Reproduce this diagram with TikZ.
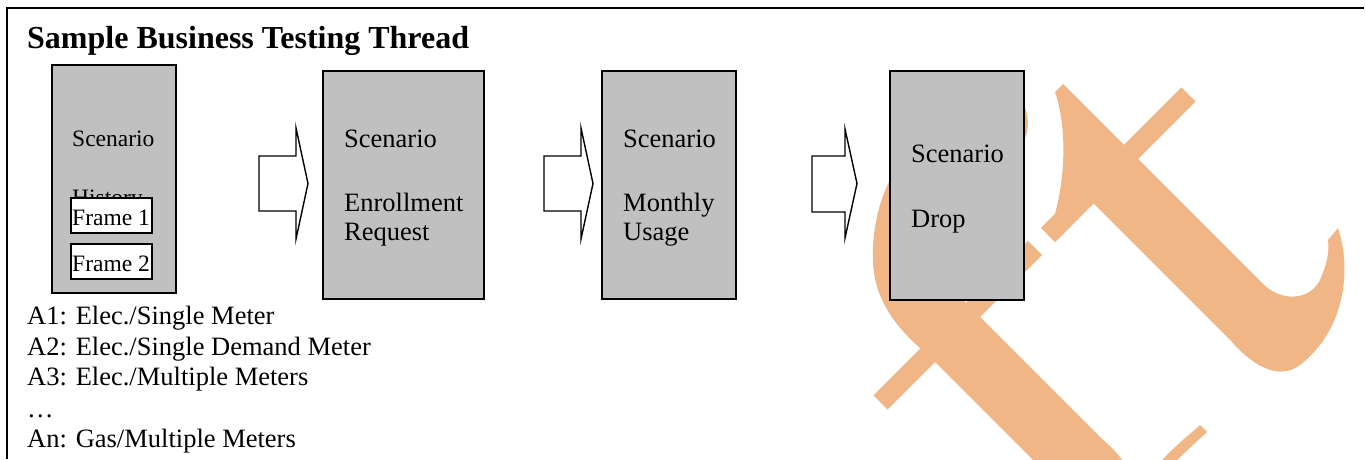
\documentclass[tikz,border=0pt]{standalone}
\usepackage{fontspec}
\setmainfont{Liberation Serif}
\definecolor{wm}{RGB}{240,182,134}
\definecolor{boxgray}{RGB}{192,192,192}
\begin{document}
\begin{tikzpicture}[x=1pt,y=-1pt,
  scenbox/.style={draw=black, fill=boxgray, line width=1.5pt, inner sep=0pt},
  framebox/.style={draw=black, fill=white, line width=1.5pt, inner sep=0pt},
  txt/.style={anchor=base west, inner sep=0pt, font=\fontsize{26.5}{30}\selectfont},
  smalltxt/.style={anchor=base west, inner sep=0pt, font=\fontsize{23.5}{27}\selectfont},
  titletxt/.style={anchor=base west, inner sep=0pt, font=\bfseries\fontsize{32}{36}\selectfont},
  blockarrow/.style={draw=black, line width=1.4pt, fill=white, line join=miter},
  wmark/.style={fill=wm, draw=none},
  wbar/.style={draw=wm, line width=20pt}]
\fill[white] (0,0) rectangle (1365,459);
\useasboundingbox (0,0) rectangle (1365,459);
\begin{scope}
\clip (0,0) rectangle (1365,459);
% watermark, upper glyph
\fill[wmark] (1055,92) -- (1063,84) -- (1262,283)
  .. controls (1282,303) and (1310,300) .. (1320,280)
  .. controls (1326,266) and (1330,252) .. (1328,240)
  -- (1338,228)
  .. controls (1352,270) and (1345,330) .. (1300,365)
  .. controls (1280,380) and (1255,368) .. (1232,342)
  -- (1093,203) -- (1055,242) -- (1048,235)
  .. controls (1066,190) and (1068,130) .. (1055,92) -- cycle;
% thin bar
\draw[wbar] (1188.5,94.5) -- (1048,235);
\draw[wbar] (1035,248) -- (880.5,402.5);
% lower glyph
\fill[wmark] (1020,100) .. controls (1030,112) and (1031,132) .. (1020,148)
  -- (900,170) -- (890,180)
  .. controls (874,210) and (866,262) .. (880,295)
  .. controls (890,320) and (908,338) .. (928,355)
  -- (1045,472) -- (1130,472)
  .. controls (1118,452) and (1110,446) .. (1100,437)
  -- (980,317) -- (955,292) -- cycle;
\fill[wmark] (1158,465) .. controls (1172,448) and (1188,436) .. (1200,425)
  -- (1207,432) .. controls (1196,442) and (1182,455) .. (1172,465) -- cycle;
\end{scope}
% frame lines (top and left only)
\draw[line width=2pt] (7,459) -- (7,7.8) -- (1364,7.8);
% title
\node[titletxt] (title) at (27,48) {Sample Business Testing Thread};
% box 1
\node[scenbox, minimum width=124pt, minimum height=228pt] (s1) at (114,179) {};
\node[smalltxt] (s1a) at (72,146) {Scenario};
\node[smalltxt] (s1b) at (72,205.5) {History};
\node[framebox, minimum width=81pt, minimum height=35pt] (f1) at (111.5,215.5) {};
\node[smalltxt] (f1t) at (72,225) {Frame 1};
\node[framebox, minimum width=81pt, minimum height=35pt] (f2) at (111.5,261.5) {};
\node[smalltxt] (f2t) at (72,271) {Frame 2};
% box 2
\node[scenbox, minimum width=161pt, minimum height=228pt] (s2) at (403.5,185) {};
\node[txt] (s2a) at (344,147) {Scenario};
\node[txt] (s2b) at (344,211) {Enrollment};
\node[txt] (s2c) at (344,240) {Request};
% box 3
\node[scenbox, minimum width=134pt, minimum height=228pt] (s3) at (669,185) {};
\node[txt] (s3a) at (623,147) {Scenario};
\node[txt] (s3b) at (623,211) {Monthly};
\node[txt] (s3c) at (623,240) {Usage};
% box 4
\node[scenbox, minimum width=134pt, minimum height=229pt] (s4) at (957,185.5) {};
\node[txt] (s4a) at (911,162) {Scenario};
\node[txt] (s4b) at (911,227) {Drop};
% block arrows
\draw[blockarrow] (259,156) -- (296,156) -- (296,128) -- (308,183.5) -- (296,239) -- (296,211) -- (259,211) -- cycle;
\draw[blockarrow] (544,156) -- (581,156) -- (581,128) -- (593,183.5) -- (581,239) -- (581,211) -- (544,211) -- cycle;
\draw[blockarrow] (812,156) -- (845,156) -- (845,129) -- (857,183.5) -- (845,238) -- (845,212) -- (812,212) -- cycle;
% list
\node[txt] (l1) at (27,324) {A1: Elec./Single Meter};
\node[txt] (l2) at (27,355) {A2: Elec./Single Demand Meter};
\node[txt] (l3) at (27,385) {A3: Elec./Multiple Meters};
\node[txt] (l4) at (27,417) {…};
\node[txt] (l5) at (27,447) {An: Gas/Multiple Meters};
\end{tikzpicture}
\end{document}
